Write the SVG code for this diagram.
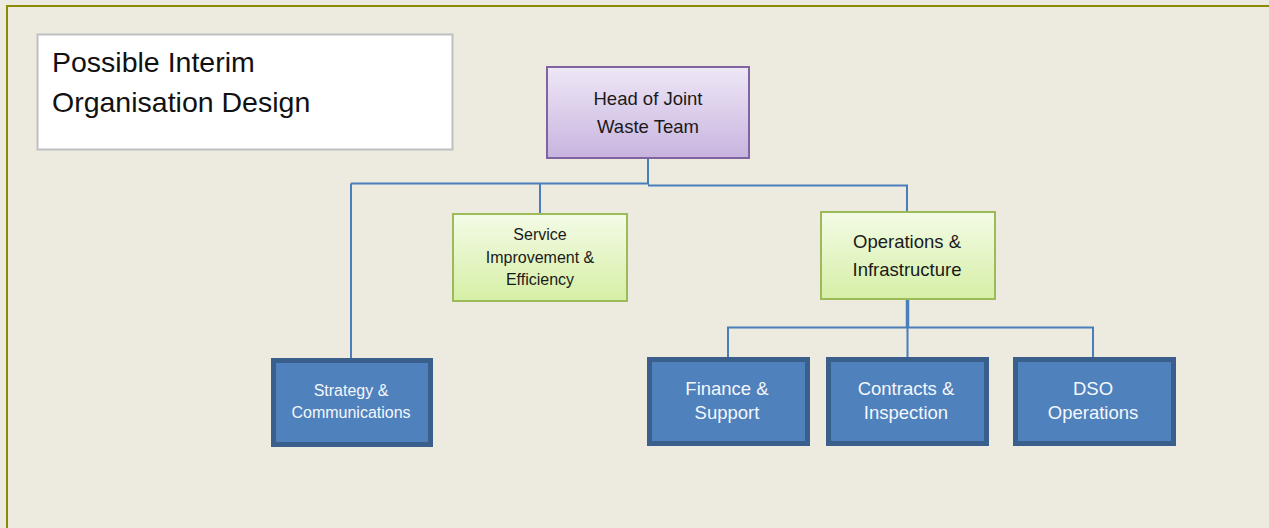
<svg xmlns="http://www.w3.org/2000/svg" width="1269" height="528" viewBox="0 0 1269 528">
<defs>
<linearGradient id="gP" x1="0" y1="0" x2="0" y2="1"><stop offset="0" stop-color="#EEE7F6"/><stop offset="1" stop-color="#C8B4DF"/></linearGradient>
<linearGradient id="gG" x1="0" y1="0" x2="0" y2="1"><stop offset="0" stop-color="#F3FBE6"/><stop offset="1" stop-color="#D6EFA6"/></linearGradient>
<style>
.t{font-family:"Liberation Sans",Arial,sans-serif;text-anchor:middle}
.dk{fill:#1A1A1A}
.wh{fill:#F4F7FB}
.blue{fill:#4F81BD;stroke:#3A5F8D;stroke-width:5}
.green{fill:url(#gG);stroke:#9BBB59;stroke-width:2}
.purple{fill:url(#gP);stroke:#8064A2;stroke-width:2}
.c{fill:none;stroke:#4A7EBB;stroke-width:2}
.L{font-size:18.5px}
.S{font-size:16px}
</style>
</defs>
<rect x="0" y="0" width="1269" height="528" fill="#EDEBE0"/>
<path d="M7 528 V6 H1269" fill="none" stroke="#8B8A00" stroke-width="2"/>

<g id="title">
<rect x="37.5" y="34.5" width="415" height="115" fill="#FFFFFF" stroke="#BFBFBF" stroke-width="2"/>
<text x="52" y="72" font-family="Liberation Sans, Arial, sans-serif" font-size="28.5" fill="#111">Possible Interim</text>
<text x="52" y="112" font-family="Liberation Sans, Arial, sans-serif" font-size="28.5" fill="#111">Organisation Design</text>
</g>

<g id="connectors">
<path class="c" d="M648 158 V184.5 M351 183.5 H648 M648 185.5 H907 V212 M540 183.5 V214 M351 183.5 V358"/>
<path d="M907.5 299 V327.5" fill="none" stroke="#4A7EBB" stroke-width="3.5"/>
<path class="c" d="M728 357 V327.5 H1093 V357 M907.5 327.5 V357"/>
</g>

<g id="head">
<rect class="purple" x="547" y="67" width="202" height="91"/>
<text class="t dk L" x="648" y="105">Head of Joint</text>
<text class="t dk L" x="648" y="133">Waste Team</text>
</g>

<g id="service">
<rect class="green" x="453" y="214" width="174" height="87"/>
<text class="t dk S" x="540" y="240">Service</text>
<text class="t dk S" x="540" y="263">Improvement &amp;</text>
<text class="t dk S" x="540" y="285">Efficiency</text>
</g>

<g id="operations">
<rect class="green" x="821" y="212" width="174" height="87"/>
<text class="t dk L" x="907" y="248">Operations &amp;</text>
<text class="t dk L" x="907" y="276">Infrastructure</text>
</g>

<g id="strategy">
<rect class="blue" x="273.5" y="360.5" width="157" height="84"/>
<text class="t wh S" x="351" y="396">Strategy &amp;</text>
<text class="t wh S" x="351" y="418">Communications</text>
</g>

<g id="finance">
<rect class="blue" x="649.5" y="359.5" width="158" height="84"/>
<text class="t wh L" x="727" y="395">Finance &amp;</text>
<text class="t wh L" x="727" y="419">Support</text>
</g>

<g id="contracts">
<rect class="blue" x="828.5" y="359.5" width="158" height="84"/>
<text class="t wh L" x="906" y="395">Contracts &amp;</text>
<text class="t wh L" x="906" y="419">Inspection</text>
</g>

<g id="dso">
<rect class="blue" x="1015.5" y="359.5" width="158" height="84"/>
<text class="t wh L" x="1093" y="395">DSO</text>
<text class="t wh L" x="1093" y="419">Operations</text>
</g>
</svg>
